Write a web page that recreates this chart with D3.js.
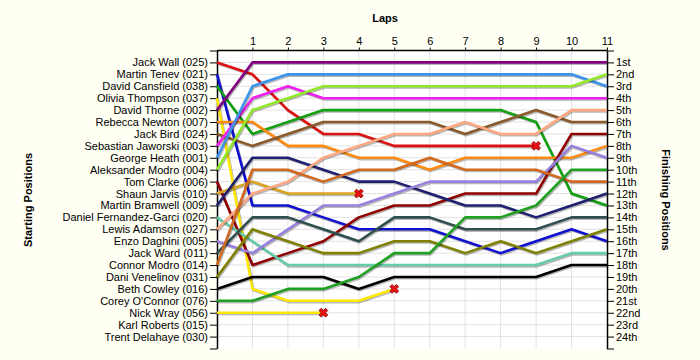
<!DOCTYPE html>
<html>
<head>
<meta charset="utf-8">
<script src="https://cdn.jsdelivr.net/npm/d3@7"></script>
<style>
  html, body { margin: 0; padding: 0; background: #FFFFF4; }
  svg { display: block; font-family: "Liberation Sans", Arial, sans-serif; }
</style>
</head>
<body>
<svg id="chart" width="700" height="360"></svg>
<script>
// ---- data ----
const lapTicks = [1, 2, 3, 4, 5, 6, 7, 8, 9, 10, 11];
const startNames = [
  "Jack Wall (025)", "Martin Tenev (021)", "David Cansfield (038)", "Olivia Thompson (037)",
  "David Thorne (002)", "Rebecca Newton (007)", "Jack Bird (024)", "Sebastian Jaworski (003)",
  "George Heath (001)", "Aleksander Modro (004)", "Tom Clarke (006)", "Shaun Jarvis (010)",
  "Martin Bramwell (009)", "Daniel Fernandez-Garci (020)", "Lewis Adamson (027)", "Enzo Daghini (005)",
  "Jack Ward (011)", "Connor Modro (014)", "Dani Venelinov (031)", "Beth Cowley (016)",
  "Corey O'Connor (076)", "Nick Wray (056)", "Karl Roberts (015)", "Trent Delahaye (030)"
];
const finishLabels = [
  "1st", "2nd", "3rd", "4th", "5th", "6th", "7th", "8th", "9th", "10th", "11th", "12th",
  "13th", "14th", "15th", "16th", "17th", "18th", "19th", "20th", "21st", "22nd", "23rd", "24th"
];
// position at lap 0..11 for each driver (in starting order); shorter rows = retired
const lapPositions = [
  [1, 2, 5, 7, 7, 8, 8, 8, 8, 8],
  [2, 13, 13, 14, 15, 15, 15, 16, 17, 16, 15, 16],
  [3, 7, 6, 5, 5, 5, 5, 5, 5, 6, 12, 13],
  [4, 20, 21, 21, 21, 20],
  [5, 1, 1, 1, 1, 1, 1, 1, 1, 1, 1, 1],
  [6, 6, 8, 8, 9, 9, 10, 9, 9, 9, 9, 8],
  [7, 8, 7, 6, 6, 6, 6, 7, 6, 5, 6, 6],
  [8, 4, 3, 4, 4, 4, 4, 4, 4, 4, 4, 4],
  [9, 3, 2, 2, 2, 2, 2, 2, 2, 2, 2, 3],
  [10, 5, 4, 3, 3, 3, 3, 3, 3, 3, 3, 2],
  [11, 18, 17, 16, 14, 13, 13, 12, 12, 12, 7, 7],
  [12, 11, 12, 12, 12],
  [13, 9, 9, 10, 11, 11, 12, 13, 13, 14, 13, 12],
  [14, 16, 18, 18, 18, 18, 18, 18, 18, 18, 17, 17],
  [15, 12, 11, 9, 8, 7, 7, 6, 7, 7, 5, 5],
  [16, 17, 15, 13, 13, 12, 11, 11, 11, 11, 8, 9],
  [17, 14, 14, 15, 16, 14, 14, 15, 15, 15, 14, 14],
  [18, 10, 10, 11, 10, 10, 9, 10, 10, 10, 11, 11],
  [19, 15, 16, 17, 17, 16, 16, 17, 16, 17, 16, 15],
  [20, 19, 19, 19, 20, 19, 19, 19, 19, 19, 18, 18],
  [21, 21, 20, 20, 19, 17, 17, 14, 14, 13, 10, 10],
  [22, 22, 22, 22],
  [],
  []
];
const totalLaps = 11;

// ---- styles ----
const colors = [
  "#E01010", "#1010D0", "#10A010", "#FFE800", "#800080", "#FF8C10", "#8B5A2B", "#F020F0",
  "#3A94EC", "#90E828", "#900000", "#DAA520", "#202070", "#66CDAA", "#FFA880", "#9880E0",
  "#2F4F4F", "#D2691E", "#808000", "#000000", "#20A020", "#FFE800", "#999999", "#999999"
];

const svg = d3.select("#chart");
const plotL = 217, plotR = 607, plotT = 50.5, plotB = 348.5;
const x = d3.scaleLinear().domain([0, totalLaps]).range([plotL, plotR]);
const y = d3.scaleLinear().domain([0, 25]).range([plotT, plotB]);

svg.append("rect").attr("width", 700).attr("height", 360).attr("fill", "#FFFFF4");
svg.append("rect").attr("x", plotL).attr("y", plotT).attr("width", plotR - plotL)
  .attr("height", plotB - plotT).attr("fill", "#FFFFFF");

// grid
const grid = svg.append("g").attr("stroke", "#E2E2E2").attr("stroke-width", 1);
grid.selectAll(".v").data(d3.range(1, totalLaps)).join("line").attr("class", "v")
  .attr("x1", d => x(d)).attr("x2", d => x(d)).attr("y1", plotT).attr("y2", plotB);
grid.selectAll(".h").data(d3.range(1, 25)).join("line").attr("class", "h")
  .attr("x1", plotL).attr("x2", plotR).attr("y1", d => y(d)).attr("y2", d => y(d));

// axes
const fontSize = "11px";
const topAxis = svg.append("g").attr("transform", `translate(0,${plotT})`)
  .call(d3.axisTop(x).tickValues(lapTicks).tickSizeInner(3).tickSizeOuter(0).tickPadding(3));
const leftAxis = svg.append("g").attr("transform", `translate(${plotL},0)`)
  .call(d3.axisLeft(y).tickValues(d3.range(0, 26)).tickSizeInner(7).tickSizeOuter(0).tickPadding(2)
    .tickFormat(d => startNames[d - 1] || ""));
const rightAxis = svg.append("g").attr("transform", `translate(${plotR},0)`)
  .call(d3.axisRight(y).tickValues(d3.range(0, 26)).tickSizeInner(7).tickSizeOuter(0).tickPadding(2)
    .tickFormat(d => finishLabels[d - 1] || ""));
[topAxis, leftAxis, rightAxis].forEach(a => {
  a.attr("font-family", "'Liberation Sans', Arial, sans-serif").attr("font-size", fontSize);
  a.select(".domain").attr("stroke", "#000").attr("stroke-width", 1.5);
  a.selectAll(".tick line").attr("stroke", "#000");
  a.selectAll(".tick text").attr("fill", "#000");
});
topAxis.select(".domain").attr("d", `M${plotL},0H${plotR}`);

// titles
svg.append("text").attr("x", 385).attr("y", 22).attr("text-anchor", "middle")
  .attr("font-size", "11px").attr("font-weight", "bold").text("Laps");
svg.append("text").attr("transform", "translate(32,200) rotate(-90)").attr("text-anchor", "middle")
  .attr("font-size", "11px").attr("font-weight", "bold").text("Starting Positions");
svg.append("text").attr("transform", "translate(662,200) rotate(90)").attr("text-anchor", "middle")
  .attr("font-size", "11px").attr("font-weight", "bold").text("Finishing Positions");

// lines
const line = d3.line().x((d, i) => x(i)).y(d => y(d));
const series = lapPositions.map((p, i) => ({ p, i })).filter(s => s.p.length > 1);
const lines = svg.append("g");
series.forEach(s => {
  lines.append("path").attr("d", line(s.p)).attr("fill", "none")
    .attr("stroke", "rgba(0,0,0,0.28)").attr("stroke-width", 2.6)
    .attr("stroke-linejoin", "round").attr("transform", "translate(1,1.3)");
  lines.append("path").attr("d", line(s.p)).attr("fill", "none")
    .attr("stroke", colors[s.i]).attr("stroke-width", 2.6).attr("stroke-linejoin", "round");
});

// retirement markers
const cross = d3.symbol().type(d3.symbolCross).size(48);
series.filter(s => s.p.length < totalLaps + 1).forEach(s => {
  const last = s.p.length - 1;
  svg.append("path").attr("d", cross())
    .attr("transform", `translate(${x(last)},${y(s.p[last])}) rotate(45)`)
    .attr("fill", "#EE1111").attr("stroke", "#880000").attr("stroke-width", 0.8);
});
</script>
</body>
</html>
